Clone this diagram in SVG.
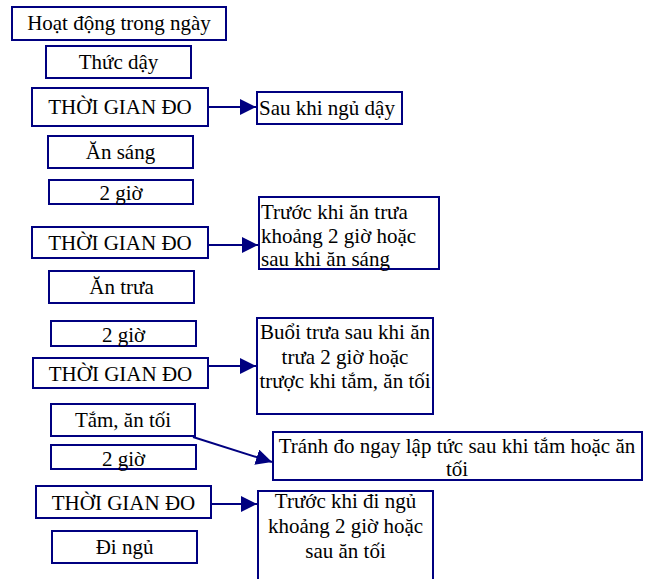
<svg xmlns="http://www.w3.org/2000/svg" width="650" height="579" viewBox="0 0 650 579">
<defs>
<style>
rect{fill:#fff;stroke:#000080;stroke-width:2}
text{font-family:"Liberation Serif","Times New Roman",serif;font-size:21px;fill:#000}
.c{text-anchor:middle}
.conn line{stroke:#000080;stroke-width:2;marker-end:url(#ah)}
</style>
<marker id="ah" markerUnits="userSpaceOnUse" markerWidth="17" markerHeight="17" refX="16" refY="8" orient="auto">
<path d="M0,0 L16,8 L0,16 z" fill="#000080"/>
</marker>
</defs>
<rect x="0" y="0" width="650" height="579" style="stroke:none"/>
<g id="n-hoatdong"><rect x="12" y="7" width="214" height="33"/><text class="c" x="119" y="30">Hoạt động trong ngày</text></g>
<g id="n-thucday"><rect x="46" y="46" width="145" height="32"/><text class="c" x="118.5" y="69">Thức dậy</text></g>
<g id="n-do1"><rect x="32" y="88" width="176" height="38"/><text class="c" x="120" y="114">THỜI GIAN ĐO</text></g>
<g id="n-sau1"><rect x="257" y="92" width="145" height="32"/><text x="259" y="115">Sau khi ngủ dậy</text></g>
<g id="n-ansang"><rect x="48" y="136" width="145" height="32"/><text class="c" x="120.5" y="159">Ăn sáng</text></g>
<g id="n-2gio1"><rect x="49" y="180" width="144" height="24"/><text class="c" x="121" y="200">2 giờ</text></g>
<g id="n-do2"><rect x="32" y="227" width="176" height="31"/><text class="c" x="120" y="250">THỜI GIAN ĐO</text></g>
<g id="n-truoc1"><rect x="259" y="197" width="180" height="72"/><text x="261" y="219">Trước khi ăn trưa</text><text x="261" y="243">khoảng 2 giờ hoặc</text><text x="261" y="266">sau khi ăn sáng</text></g>
<g id="n-antrua"><rect x="49" y="271" width="145" height="32"/><text class="c" x="121.5" y="294">Ăn trưa</text></g>
<g id="n-2gio2"><rect x="51" y="321" width="145" height="25"/><text class="c" x="123.5" y="342">2 giờ</text></g>
<g id="n-do3"><rect x="33" y="358" width="175" height="30"/><text class="c" x="120.5" y="381">THỜI GIAN ĐO</text></g>
<g id="n-buoitrua"><rect x="257" y="318" width="176" height="96"/><text class="c" x="345" y="339">Buổi trưa sau khi ăn</text><text class="c" x="345" y="364">trưa 2 giờ hoặc</text><text class="c" x="345" y="388">trược khi tắm, ăn tối</text></g>
<g id="n-tam"><rect x="51" y="404" width="144" height="32"/><text class="c" x="123" y="427">Tắm, ăn tối</text></g>
<g id="n-2gio3"><rect x="51" y="445" width="145" height="24"/><text class="c" x="123.5" y="466">2 giờ</text></g>
<g id="n-tranh"><rect x="273" y="432" width="369" height="48"/><text class="c" x="457" y="453">Tránh đo ngay lập tức sau khi tắm hoặc ăn</text><text class="c" x="457" y="476">tối</text></g>
<g id="n-do4"><rect x="36" y="486" width="175" height="32"/><text class="c" x="123.5" y="510">THỜI GIAN ĐO</text></g>
<g id="n-truoc2"><rect x="258" y="491" width="175" height="100"/><text class="c" x="345.5" y="508">Trước khi đi ngủ</text><text class="c" x="345.5" y="533">khoảng 2 giờ hoặc</text><text class="c" x="345.5" y="558">sau ăn tối</text></g>
<g id="n-dingu"><rect x="52" y="531" width="145" height="32"/><text class="c" x="124.5" y="554">Đi ngủ</text></g>
<g class="conn" id="connectors">
<line x1="208" y1="107" x2="256" y2="107"/>
<line x1="208" y1="245" x2="258" y2="245"/>
<line x1="208" y1="366" x2="256" y2="366"/>
<line x1="193" y1="437" x2="272" y2="462"/>
<line x1="211" y1="504" x2="257" y2="504"/>
</g>
</svg>
